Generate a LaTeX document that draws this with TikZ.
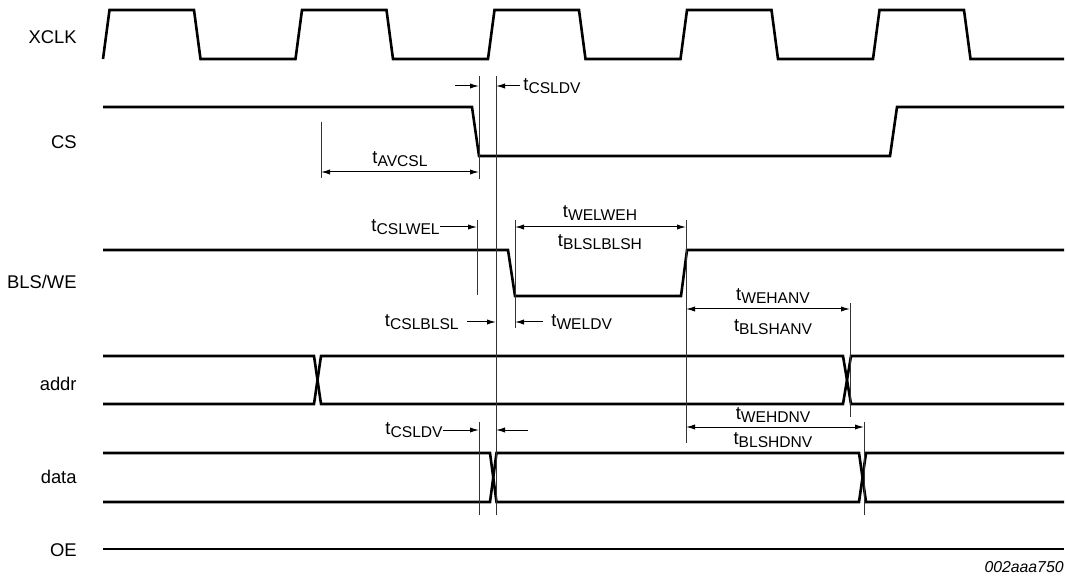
\documentclass[tikz,border=0pt]{standalone}
\usepackage{fontspec}
\setmainfont{Liberation Sans}
\usetikzlibrary{arrows.meta}
\newcommand{\tpar}[1]{t\raisebox{-1.2pt}{\fontsize{7.8}{8}\selectfont #1}}

\begin{document}
\begin{tikzpicture}[
  x=0.5pt, y=-0.5pt,
  font=\fontsize{9.2}{10}\selectfont,
  sig/.style={line width=1.3pt},
  refl/.style={line width=0.5pt, black!80},
  dim/.style={line width=0.5pt, {Latex[length=4.5pt,width=2.6pt]}-{Latex[length=4.5pt,width=2.6pt]}},
  pf/.style={line width=0.5pt, -{Latex[length=4.5pt,width=2.6pt]}},
  nm/.style={anchor=east, inner sep=0pt},
  tl/.style={inner sep=0pt}
]
\useasboundingbox (0,0) rectangle (1066,577);

% Signalnamen
\node[nm] (nclk)  at (77,37)  {XCLK};
\node[nm] (ncs)   at (77,142) {CS};
\node[nm] (nwe)   at (77,282) {BLS/WE};
\node[nm] (naddr) at (77,384) {addr};
\node[nm] (ndata) at (77,477) {data};
\node[nm] (noe)   at (77,550) {OE};

% XCLK
\draw[sig] (103,59) \foreach \k in {0,...,4} {
    -- ({103+192.5*\k},59) -- ({109.5+192.5*\k},10)
    -- ({194+192.5*\k},10) -- ({200.5+192.5*\k},59)} -- (1064,59);

% CS
\draw[sig] (103,107) -- (472,107) -- (479,156) -- (890,156) -- (897,107) -- (1064,107);

% BLS/WE
\draw[sig] (103,250) -- (508,250) -- (515,296) -- (681,296) -- (687,250) -- (1064,250);

% addr
\draw[sig] (103,356) -- (314,356) -- (321,404) -- (843,404) -- (851,356) -- (1064,356);
\draw[sig] (103,404) -- (314,404) -- (321,356) -- (843,356) -- (851,404) -- (1064,404);

% data
\draw[sig] (103,453) -- (490,453) -- (496.5,502) -- (859,502) -- (866,453) -- (1064,453);
\draw[sig] (103,502) -- (490,502) -- (496.5,453) -- (859,453) -- (866,502) -- (1064,502);

% OE
\draw[sig] (103,549) -- (1064,549);

% Bezugslinien
\draw[refl] (321,122) -- (321,178);
\draw[refl] (479,76) -- (479,179);
\draw[refl] (496,76) -- (496,515);
\draw[refl] (477,220) -- (477,295);
\draw[refl] (515,220) -- (515,328);
\draw[refl] (686,220) -- (686,443);
\draw[refl] (850,303) -- (850,417);
\draw[refl] (864,422) -- (864,515);
\draw[refl] (479,422) -- (479,515);

% tCSLDV oben
\draw[pf] (455,86) -- (479,86);
\draw[pf] (520,86) -- (496,86);
\node[tl, anchor=west] (lcsldv) at (523,86) {\tpar{CSLDV}};

% tAVCSL
\draw[dim] (321,172) -- (479,172);
\node[tl] (lavcsl) at (400,159) {\tpar{AVCSL}};

% tCSLWEL
\node[tl, anchor=east] (lcslwel) at (440,227) {\tpar{CSLWEL}};
\draw[pf] (lcslwel.east) -- (477,227);

% tWELWEH / tBLSLBLSH
\draw[dim] (515,227) -- (686,227);
\node[tl] (lwelweh)   at (600,213) {\tpar{WELWEH}};
\node[tl] (lblslblsh) at (600,242) {\tpar{BLSLBLSH}};

% tCSLBLSL / tWELDV
\node[tl, anchor=east] (lcslblsl) at (459,322) {\tpar{CSLBLSL}};
\draw[pf] (467,322) -- (496,322);
\draw[pf] (543,322) -- (515,322);
\node[tl, anchor=west] (lweldv) at (551,322) {\tpar{WELDV}};

% tWEHANV / tBLSHANV
\draw[dim] (686,309) -- (850,309);
\node[tl] (lwehanv)  at (773,296) {\tpar{WEHANV}};
\node[tl] (lblshanv) at (773,327) {\tpar{BLSHANV}};

% tCSLDV unten
\node[tl, anchor=east] (lcsldv2) at (443,430) {\tpar{CSLDV}};
\draw[pf] (lcsldv2.east) -- (479,430);
\draw[pf] (528,430) -- (496,430);

% tWEHDNV / tBLSHDNV
\draw[dim] (686,427) -- (864,427);
\node[tl] (lwehdnv)  at (773,415) {\tpar{WEHDNV}};
\node[tl] (lblshdnv) at (773,440) {\tpar{BLSHDNV}};

\node[tl, anchor=east, font=\fontsize{7.9}{9}\selectfont\itshape] (fig) at (1064,567) {002aaa750};

\end{tikzpicture}
\end{document}
